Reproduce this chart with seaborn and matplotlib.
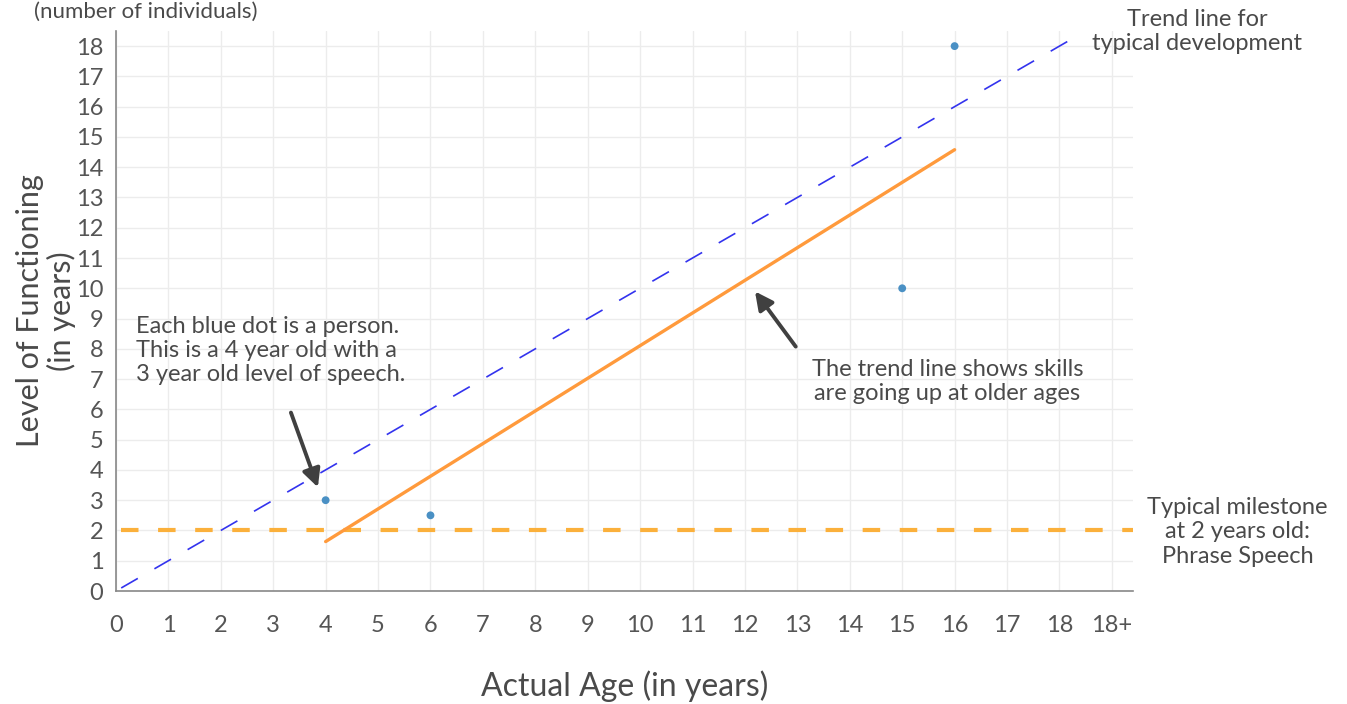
import matplotlib
matplotlib.use("Agg")
import matplotlib.pyplot as plt
import seaborn as sns
import numpy as np
import pandas as pd

# ---- data ----
ages = [4, 6, 15, 16]
levels = [3, 2.5, 10, 18]
typical_x = [0.1, 18.3]
typical_y = [0.1, 18.3]
milestone_level = 2
x_ticks = list(range(0, 20))
x_tick_labels = [str(i) for i in range(0, 19)] + ["18+"]
y_ticks = list(range(0, 19))

df = pd.DataFrame({"age": ages, "level": levels})

sns.set_theme(style="white")
plt.rcParams["font.family"] = ["Lato", "DejaVu Sans"]

fig = plt.figure(figsize=(13.47, 7.04), dpi=100)
ax = fig.add_axes([0.0861, 0.1605, 0.7549, 0.7955])

txt = "#4a4a4a"

# grid
ax.set_xlim(0, 19.4)
ax.set_ylim(0, 18.5)
ax.set_xticks(x_ticks)
ax.set_xticklabels(x_tick_labels)
ax.set_yticks(y_ticks)
ax.grid(True, color="#ececec", linewidth=1.0)
ax.set_axisbelow(True)

# milestone line
ax.axhline(milestone_level, xmin=0.1 / 19.4, xmax=1, color="#fbb03b", lw=3.0,
           linestyle=(0, (4.2, 4.7)), zorder=2)

# typical development
ax.plot(typical_x, typical_y, color="#3333ee", lw=1.2,
        linestyle=(0, (11.5, 11.5)), zorder=2)

# regression trend line
sns.regplot(data=df, x="age", y="level", scatter=False, ci=None, ax=ax,
            line_kws=dict(color="#ff9a3c", lw=2.4, zorder=3))

# points
sns.scatterplot(data=df, x="age", y="level", ax=ax, color="#4a90c4", s=32,
                edgecolor="none", zorder=4)

ax.set_xlabel("Actual Age (in years)", fontsize=23, color=txt, va="center")
ax.xaxis.set_label_coords(0.5, -0.17)
ax.set_ylabel("Level of Functioning\n(in years)", fontsize=22, color=txt,
              linespacing=1.1, va="center")
ax.yaxis.set_label_coords(-0.069, 0.5)
ax.tick_params(axis="both", labelsize=17, colors="#555555", length=0)
ax.tick_params(axis="x", pad=17)
ax.tick_params(axis="y", pad=9)

for s in ["top", "right"]:
    ax.spines[s].set_visible(False)
for s in ["left", "bottom"]:
    ax.spines[s].set_color("#888888")
    ax.spines[s].set_linewidth(1.2)

fs = 17
arrow = dict(arrowstyle="-|>,head_length=0.9,head_width=0.45", color="#404040", lw=2.8)

# annotations
ax.text(0.38, 9.1, "Each blue dot is a person.\nThis is a 4 year old with a\n3 year old level of speech.",
        fontsize=fs, color=txt, ha="left", va="top", linespacing=1.2)
ax.annotate("", xy=(3.87, 3.34), xytext=(3.32, 5.98), arrowprops=arrow)
ax.annotate("", xy=(12.16, 9.97), xytext=(13.0, 8.0), arrowprops=arrow)
ax.text(15.86, 6.93, "The trend line shows skills\nare going up at older ages",
        fontsize=fs, color=txt, ha="center", va="center", linespacing=1.2)
ax.text(20.63, 18.48, "Trend line for\ntypical development", fontsize=fs, color=txt,
        ha="center", va="center", linespacing=1.2, clip_on=False)
ax.text(21.4, 1.95, "Typical milestone\nat 2 years old:\nPhrase Speech", fontsize=fs,
        color=txt, ha="center", va="center", linespacing=1.2, clip_on=False)

fig.text(0.025, 0.998, "(number of individuals)", fontsize=16, color=txt,
         ha="left", va="top")

fig.savefig("out.png", dpi=100)
